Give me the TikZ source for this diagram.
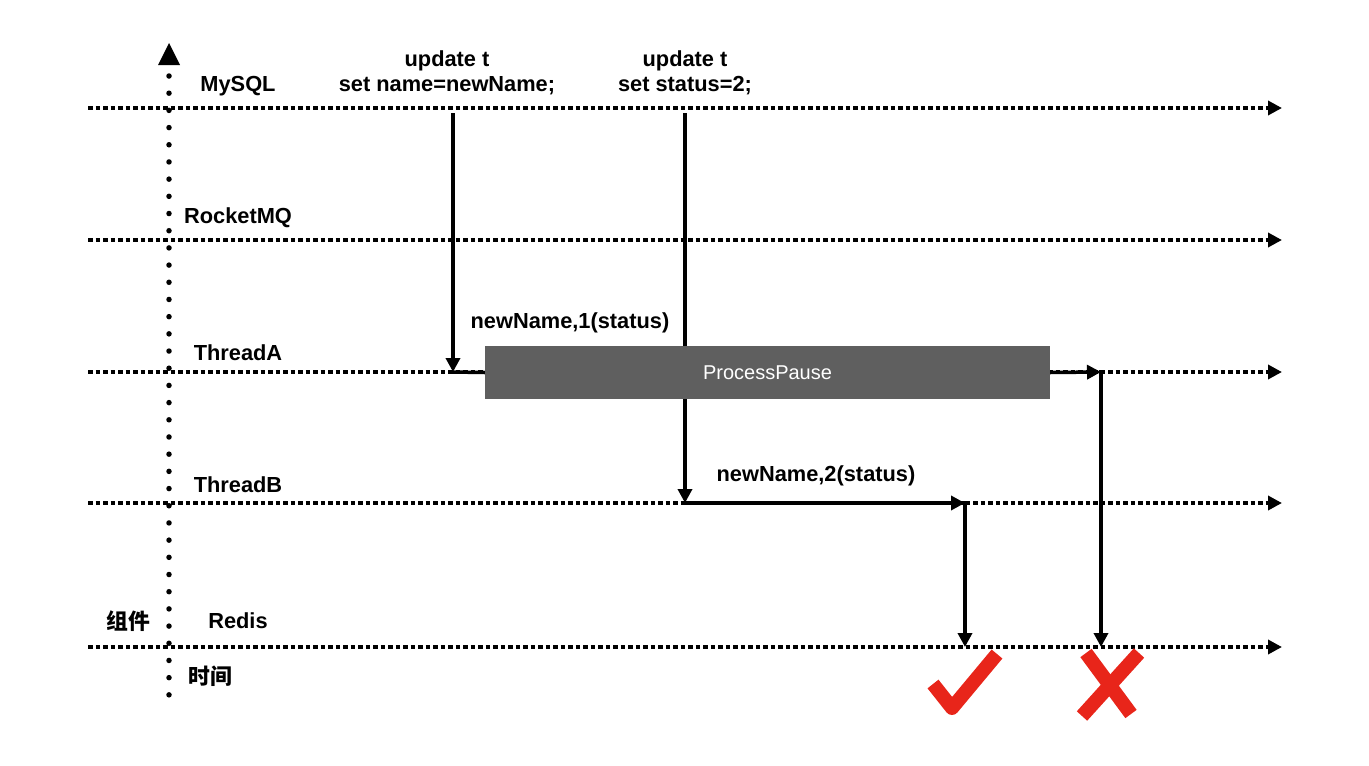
\documentclass[tikz,border=0pt]{standalone}
\usepackage{fontspec}
\setmainfont{Liberation Sans}
\newfontfamily\cjk{Noto Sans CJK SC}
\usetikzlibrary{arrows.meta}
\definecolor{boxgray}{HTML}{5F5F5F}
\definecolor{markred}{HTML}{E8251A}
\tikzset{
  arrowtip/.style={-{Triangle[length=14pt,width=14pt]}},
  lane/.style={arrowtip, line width=3.5pt, dash pattern=on 4.5pt off 3pt},
  flow/.style={line width=3.5pt},
  flowarrow/.style={arrowtip, line width=3.5pt},
  lbl/.style={font=\fontsize{21.8}{25}\selectfont\bfseries, inner sep=0pt, align=center},
  redmark/.style={draw=markred, line width=14pt, line cap=butt, line join=round},
}
\begin{document}
\begin{tikzpicture}[x=1pt,y=-1pt]
\useasboundingbox (0,0) rectangle (1369,766);
% axis
\coordinate (axTop) at (169,76);
\coordinate (axBot) at (169,695);
\draw[line width=5.5pt, line cap=round, dash pattern=on 0pt off 17.19pt] (axTop) -- (axBot);
\fill (169,43) -- (180,65) -- (158,65) -- cycle;
% lanes
\foreach \n/\y in {mysql/108, mq/240, ta/372, tb/503, redis/647}{
  \coordinate (\n L) at (88,\y);
  \coordinate (\n R) at (1282,\y);
  \draw[lane] (\n L) -- (\n R);
}
% labels
\node[lbl] (lMy) at (238,86) {MySQL};
\node[lbl] (lMq) at (238,218) {RocketMQ};
\node[lbl] (lTa) at (238,353) {ThreadA};
\node[lbl] (lTb) at (238,485) {ThreadB};
\node[lbl] (lRe) at (238,621) {Redis};
\node[lbl] (lZj) at (128,621) {\cjk 组件};
\node[lbl] (lSj) at (210,676) {\cjk 时间};
\node[lbl] (up1) at (447,73) {update t\\set name=newName;};
\node[lbl] (up2) at (685,73) {update t\\set status=2;};
\node[lbl] (nn1) at (570,323) {newName,1(status)};
\node[lbl] (nn2) at (816,476) {newName,2(status)};
% connectors
\coordinate (a1) at (453,113);
\coordinate (a2) at (453,372);
\coordinate (a3) at (451.25,372);
\coordinate (b1) at (685,113);
\coordinate (b2) at (685,503);
\coordinate (b3) at (683.25,503);
\coordinate (b4) at (965,503);
\coordinate (b5) at (965,501.25);
\coordinate (b6) at (965,647);
\coordinate (c2) at (1101,372);
\coordinate (c3) at (1101,370.25);
\coordinate (c4) at (1101,647);
\draw[flowarrow] (a1) -- (a2);
\draw[flowarrow] (b1) -- (b2);
\node[fill=boxgray, minimum width=565pt, minimum height=53pt, inner sep=0pt,
      text=white, font=\fontsize{20}{24}\selectfont] (box) at (767.5,372.5) {ProcessPause};
\draw[flow] (a3) -- (box.west);
\draw[flowarrow] (b3) -- (b4);
\draw[flowarrow] (b5) -- (b6);
\draw[flowarrow] (box.east) -- (c2);
\draw[flowarrow] (c3) -- (c4);
% check and cross
\draw[redmark] (933,684) -- (952,708) -- (997,654);
\draw[redmark] (1086,653) -- (1131,714);
\draw[redmark] (1139,653) -- (1082,716);
\end{tikzpicture}
\end{document}
